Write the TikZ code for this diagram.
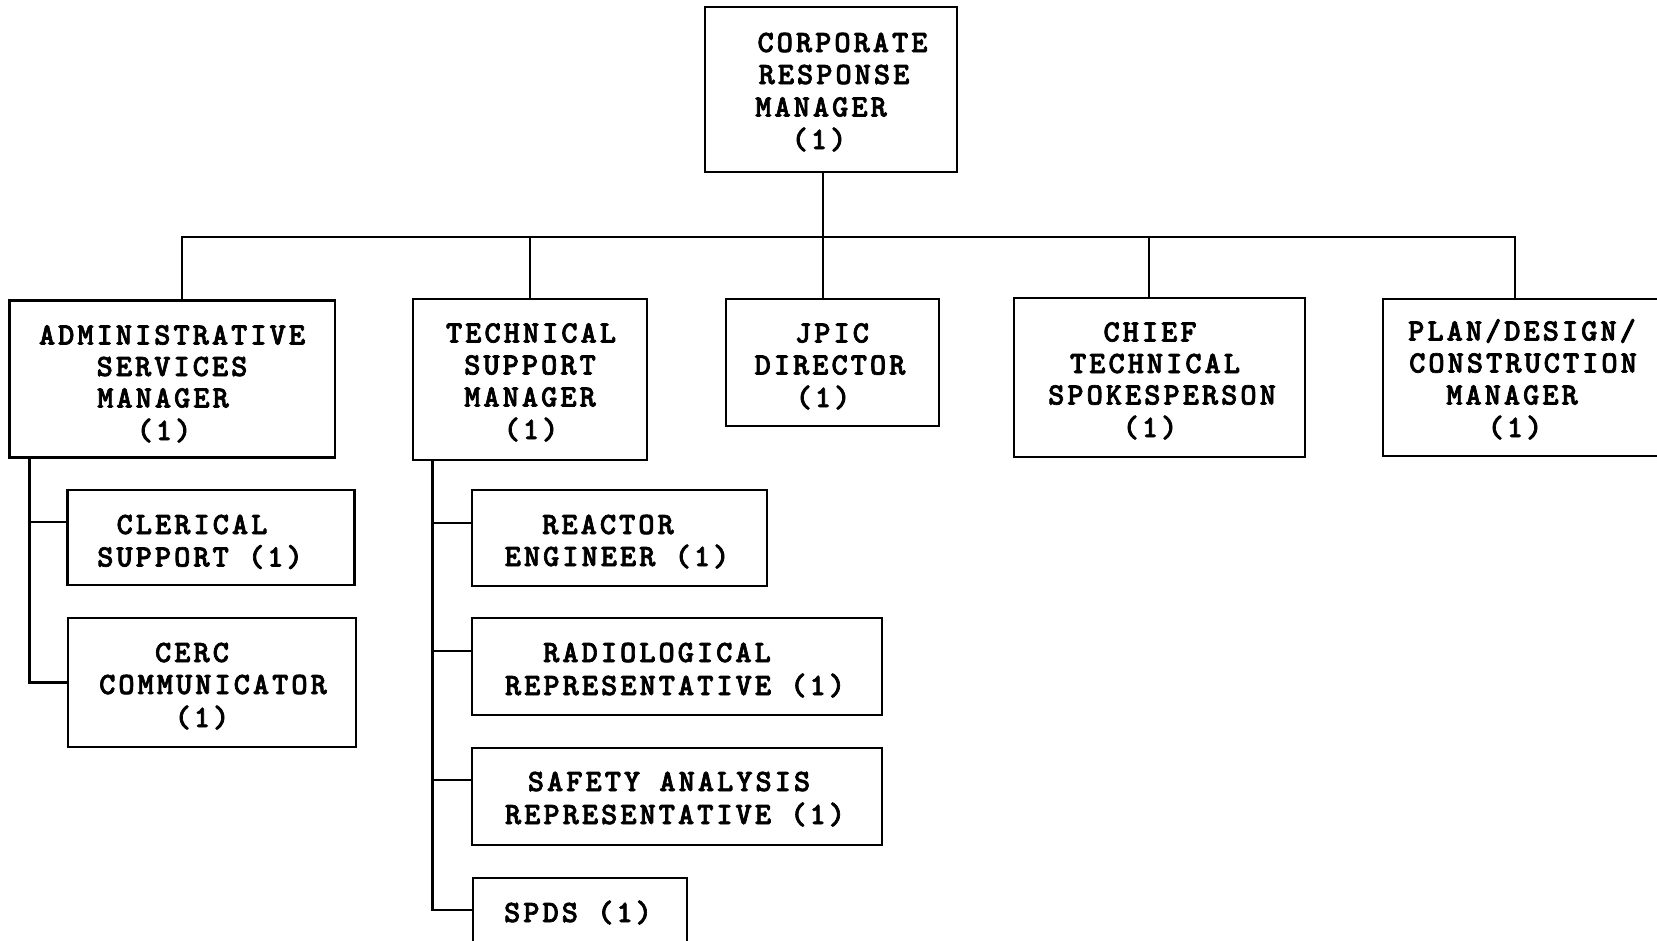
\documentclass[tikz,border=0pt]{standalone}
\usepackage{fontspec}
\newfontfamily\orgfont{lmmonolt10-bold.otf}[LetterSpace=9.5,FakeBold=2.2]
\begin{document}
\begin{tikzpicture}[x=1pt,y=-1pt,
  orgbox/.style={draw, line width=2.6pt, inner sep=0pt, rectangle},
  lbl/.style={font=\orgfont\fontsize{31}{31}\selectfont, inner sep=0pt, anchor=base},
  link/.style={line width=2.6pt}]
\useasboundingbox (0,0) rectangle (1657,940);
\clip (0,0) rectangle (1657,940);

% ---- boxes ----
\node[orgbox, minimum width=252pt,   minimum height=165pt] (crm)  at (831,89.5) {};
\node[orgbox, minimum width=325.5pt, minimum height=157pt] (asm)  at (172.25,379.2) {};
\node[orgbox, minimum width=234pt,   minimum height=161pt] (tsm)  at (530,379.5) {};
\node[orgbox, minimum width=213pt,   minimum height=127pt] (jpic) at (832.5,362.5) {};
\node[orgbox, minimum width=291pt,   minimum height=159pt] (cts)  at (1159.5,377.5) {};
\node[orgbox, minimum width=280pt,   minimum height=157pt] (pdc)  at (1523,377.5) {};
\node[orgbox, minimum width=286.6pt, minimum height=95pt]  (cler) at (211,537.5) {};
\node[orgbox, minimum width=287.7pt, minimum height=129pt] (cerc) at (212,682.5) {};
\node[orgbox, minimum width=295pt,   minimum height=96pt]  (reac) at (619.5,538) {};
\node[orgbox, minimum width=410pt,   minimum height=97pt]  (rad)  at (677,666.5) {};
\node[orgbox, minimum width=410pt,   minimum height=97pt]  (saf)  at (677,796.5) {};
\node[orgbox, minimum width=214pt,   minimum height=97pt]  (spds) at (580,926.5) {};

% ---- labels ----
\node[lbl] (crm1) at (842.5,52)  {CORPORATE};
\node[lbl] (crm2) at (834,84)    {RESPONSE};
\node[lbl] (crm3) at (821,116.5) {MANAGER};
\node[lbl] (crm4) at (819,149)   {(1)};

\node[lbl] (asm1) at (172,344.5) {ADMINISTRATIVE};
\node[lbl] (asm2) at (172,376)   {SERVICES};
\node[lbl] (asm3) at (163,407.5) {MANAGER};
\node[lbl] (asm4) at (164,440)   {(1)};

\node[lbl] (tsm1) at (531,342.5) {TECHNICAL};
\node[lbl] (tsm2) at (530,374.5) {SUPPORT};
\node[lbl] (tsm3) at (530,406.5) {MANAGER};
\node[lbl] (tsm4) at (531,439)   {(1)};

\node[lbl] (jpic1) at (832,342.5) {JPIC};
\node[lbl] (jpic2) at (830,374.5) {DIRECTOR};
\node[lbl] (jpic3) at (823,407)   {(1)};

\node[lbl] (cts1) at (1150,341.5) {CHIEF};
\node[lbl] (cts2) at (1155,373)   {TECHNICAL};
\node[lbl] (cts3) at (1162,404.5) {SPOKESPERSON};
\node[lbl] (cts4) at (1150,437)   {(1)};

\node[lbl] (pdc1) at (1522,340.5) {PLAN/DESIGN/};
\node[lbl] (pdc2) at (1523,372.5) {CONSTRUCTION};
\node[lbl] (pdc3) at (1512,404.5) {MANAGER};
\node[lbl] (pdc4) at (1515,437)   {(1)};

\node[lbl] (cler1) at (192,534)  {CLERICAL};
\node[lbl] (cler2) at (200,566.5) {SUPPORT (1)};

\node[lbl] (cerc1) at (192,662)  {CERC};
\node[lbl] (cerc2) at (213,694)  {COMMUNICATOR};
\node[lbl] (cerc3) at (202,727)  {(1)};

\node[lbl] (reac1) at (608,534)  {REACTOR};
\node[lbl] (reac2) at (617,566)  {ENGINEER (1)};

\node[lbl] (rad1) at (657,662)   {RADIOLOGICAL};
\node[lbl] (rad2) at (675,695)   {REPRESENTATIVE (1)};

\node[lbl] (saf1) at (669,791)   {SAFETY ANALYSIS};
\node[lbl] (saf2) at (675,824)   {REPRESENTATIVE (1)};

\node[lbl] (spds1) at (578,922)  {SPDS (1)};

% ---- top-level bus ----
\coordinate (hub) at (823,237);
\draw[link] (hub |- crm.south) -- (hub) -- (hub |- jpic.north);
\draw[link] ([xshift=9.75pt]asm.north) |- (hub) -| ([xshift=-8pt]pdc.north);
\draw[link] (tsm.north) |- (hub);
\draw[link] ([xshift=-10.5pt]cts.north) |- (hub);

% ---- administrative branch ----
\coordinate (aspine) at ([xshift=21.4pt]asm.south west);
\draw[link] (aspine) |- (cerc.west);
\draw[link] ([yshift=15.5pt]cler.west) -| (aspine);

% ---- technical branch ----
\coordinate (tspine) at ([xshift=21pt]tsm.south west);
\draw[link] (tspine) |- ([yshift=16.5pt]spds.west);
\draw[link] ([yshift=15pt]reac.west) -| (tspine);
\draw[link] ([yshift=15.5pt]rad.west) -| (tspine);
\draw[link] ([yshift=16.5pt]saf.west) -| (tspine);
\end{tikzpicture}
\end{document}
